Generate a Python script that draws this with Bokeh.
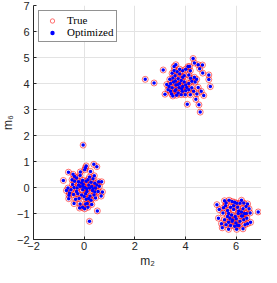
from bokeh.plotting import figure
from bokeh.models import Range1d, FixedTicker, Legend, LegendItem, Title
from bokeh.embed import file_html
from bokeh.resources import INLINE

# Cluster 1 (around 0, 0)
c1_m2 = [-0.04, 0.08, 0.05, 0.38, 0.50, -0.62, -0.44, 0.02, -0.82, -0.30, -0.16, 0.21, 0.35,
         -0.38, -0.22, -0.06, 0.08, 0.27, 0.42, 0.57, 0.69, -0.64, -0.52, -0.40, -0.28, -0.16,
         -0.06, 0.02, 0.11, 0.21, 0.33, 0.45, 0.55, 0.72, 0.67, -0.58, -0.42, -0.25, -0.10, 0.06,
         0.23, 0.39, -0.61, -0.40, -0.16, -0.06, 0.06, 0.15, -0.18, 0.02, 0.52, 0.21, -0.34,
         -0.22, 0.18, 0.30, 0.42, -0.04, -0.46, 0.08, 0.27, -0.70, -0.48, -0.10, 0.15, 0.40,
         0.60, -0.30, 0.00, 0.18, -0.20, 0.35, -0.05, 0.10, -0.60, 0.50, -0.15, 0.25, 0.30,
         0.12, -0.38, 0.45]
c1_m6 = [1.63, 0.83, 0.76, 0.89, 0.80, 0.59, 0.51, 0.68, 0.27, 0.37, 0.46, 0.40, 0.34,
         0.24, 0.22, 0.28, 0.24, 0.20, 0.16, 0.22, 0.22, -0.02, -0.09, 0.00, -0.02, 0.04,
         -0.09, 0.00, -0.15, -0.02, -0.12, -0.02, -0.15, -0.17, -0.33, -0.21, -0.27, -0.24, -0.29, -0.24,
         -0.33, -0.29, -0.43, -0.62, -0.63, -0.76, -0.63, -0.76, -0.79, -0.82, -0.90, -1.30, -0.45,
         0.10, 0.10, 0.04, -0.17, 0.12, 0.12, -0.45, -0.49, -0.12, 0.30, 0.18, 0.30, 0.45,
         0.05, -0.15, -0.35, -0.42, -0.42, -0.05, 0.05, -0.05, -0.30, 0.10, 0.60, 0.62, -0.65,
         -0.62, 0.42, -0.40]

# Cluster 2 (around 4, 4)
c2_m2 = [2.41, 2.76, 3.12, 3.19, 3.50, 3.47, 3.55, 3.62, 4.07, 4.30, 4.35, 4.16, 4.50, 4.67,
         4.56, 4.68, 4.92, 4.92, 4.98, 4.41, 4.53, 4.58, 4.72, 4.62, 4.50, 4.44, 4.35, 4.13,
         3.89, 3.77, 3.71, 3.83, 3.95, 4.01, 3.89, 3.75, 3.62, 3.53, 3.41, 3.35, 3.31, 3.41,
         3.59, 3.71, 3.87, 4.01, 4.13, 4.25, 4.19, 3.99, 3.83, 3.65, 3.59, 3.67, 4.01, 4.19,
         4.25, 4.13, 3.50, 3.38, 3.77, 3.62, 3.47, 4.38, 4.32, 3.26, 3.77, 3.89, 3.95, 3.60,
         4.05, 3.70, 4.20, 3.45, 3.85, 4.10, 3.55, 4.45]
c2_m6 = [4.16, 4.02, 4.52, 3.59, 3.52, 4.39, 4.65, 4.72, 3.20, 4.96, 4.79, 4.65, 4.72, 4.71,
         4.57, 4.40, 4.33, 4.15, 3.88, 3.39, 3.18, 2.90, 3.54, 3.70, 3.85, 4.16, 4.24, 4.33,
         4.49, 4.37, 4.18, 4.12, 4.06, 3.94, 3.88, 3.84, 3.94, 4.06, 4.00, 3.88, 3.76, 3.70,
         3.72, 3.63, 3.70, 3.72, 3.76, 3.84, 3.57, 3.57, 3.57, 3.55, 4.30, 4.45, 4.55, 4.49,
         4.09, 4.00, 4.21, 4.16, 4.00, 3.76, 3.84, 4.06, 3.70, 3.96, 4.55, 4.24, 4.30, 4.10,
         3.85, 3.95, 4.20, 3.60, 3.80, 4.65, 4.50, 3.60]

# Cluster 3 (around 6, -1)
c3_m2 = [6.87, 5.24, 5.33, 5.30, 5.45, 5.70, 6.02, 6.27, 6.45, 6.57, 6.55, 6.51, 6.45, 6.21,
         6.15, 5.54, 5.72, 5.84, 5.94, 5.58, 5.66, 5.78, 5.90, 6.06, 6.27, 6.33, 6.21, 6.08,
         5.96, 5.82, 5.66, 5.54, 5.70, 5.84, 5.99, 6.15, 6.30, 6.42, 5.78, 5.94, 6.11, 5.60,
         6.35, 5.48, 5.50, 6.02, 6.39, 6.21, 5.75, 5.42, 5.90, 6.10, 5.70, 6.00, 6.25, 5.85,
         6.40, 5.60, 6.30, 6.05]
c3_m6 = [-0.94, -0.66, -0.85, -1.18, -1.55, -1.61, -1.61, -1.59, -1.39, -1.34, -0.98, -0.82, -0.63, -0.49,
         -0.61, -0.51, -0.49, -0.54, -0.57, -0.70, -0.88, -0.76, -0.85, -0.76, -0.82, -1.00, -1.10, -1.00,
         -1.12, -1.06, -1.12, -1.24, -1.34, -1.30, -1.37, -1.30, -1.24, -1.18, -1.46, -1.49, -1.46, -1.43,
         -1.43, -0.98, -0.78, -0.61, -0.73, -0.94, -1.18, -1.39, -0.70, -0.90, -1.00, -1.20, -1.10, -1.25,
         -1.00, -0.60, -0.60, -1.45]

m2_true = c1_m2 + c2_m2 + c3_m2
m6_true = c1_m6 + c2_m6 + c3_m6
m2_opt = list(m2_true)
m6_opt = list(m6_true)

x_ticks = [-2, 0, 2, 4, 6]
y_ticks = [-2, -1, 0, 1, 2, 3, 4, 5, 6, 7]
x_label = "m₂"
y_label = "m₆"

p = figure(width=261, height=267, output_backend="svg", toolbar_location=None,
           x_range=Range1d(-2, 7), y_range=Range1d(-2, 7),
           min_border_left=0, min_border_right=0, min_border_top=5, min_border_bottom=0)
p.outline_line_color = None
p.background_fill_color = "white"

r_true = p.scatter(m2_true, m6_true, marker="circle", size=6, fill_color=None,
                   line_color="#ff0000", line_alpha=0.55, line_width=1)
r_opt = p.scatter(m2_opt, m6_opt, marker="circle", size=3.5, fill_color="#0000ff",
                  line_color=None)

for ax in (p.xaxis, p.yaxis):
    ax.major_label_text_font = "Liberation Sans"
    ax.major_label_text_font_size = "11px"
    ax.major_label_text_color = "#262626"
    ax.major_label_text_line_height = 1.0
    ax.axis_line_color = "#262626"
    ax.major_tick_line_color = "#262626"
    ax.major_tick_in = 3
    ax.major_tick_out = 0
    ax.minor_tick_line_color = None
p.xaxis.major_label_standoff = 2
p.yaxis.major_label_standoff = 4

p.xaxis.ticker = FixedTicker(ticks=x_ticks)
p.yaxis.ticker = FixedTicker(ticks=y_ticks)

p.xgrid.grid_line_color = "#e3e3e3"
p.ygrid.grid_line_color = "#e3e3e3"

tx = Title(text=x_label, align="center", text_font="Liberation Sans", text_font_size="12px",
           text_font_style="normal", text_color="#262626", standoff=-1, offset=0)
ty = Title(text=y_label, align="center", text_font="Liberation Sans", text_font_size="12px",
           text_font_style="normal", text_color="#262626", standoff=-3, offset=0)
p.add_layout(tx, "below")
p.add_layout(ty, "left")

legend = Legend(items=[LegendItem(label="True", renderers=[r_true]),
                       LegendItem(label="Optimized", renderers=[r_opt])],
                location="top_left")
legend.label_text_font = "Liberation Serif"
legend.label_text_font_size = "11px"
legend.label_text_color = "#000000"
legend.border_line_color = "#262626"
legend.border_line_width = 1
legend.padding = 3
legend.spacing = 0
legend.margin = 5
legend.glyph_width = 20
legend.glyph_height = 11
legend.label_height = 11
legend.label_standoff = 5
legend.background_fill_alpha = 1
p.add_layout(legend)

open("out.html", "w").write(file_html(p, INLINE))
